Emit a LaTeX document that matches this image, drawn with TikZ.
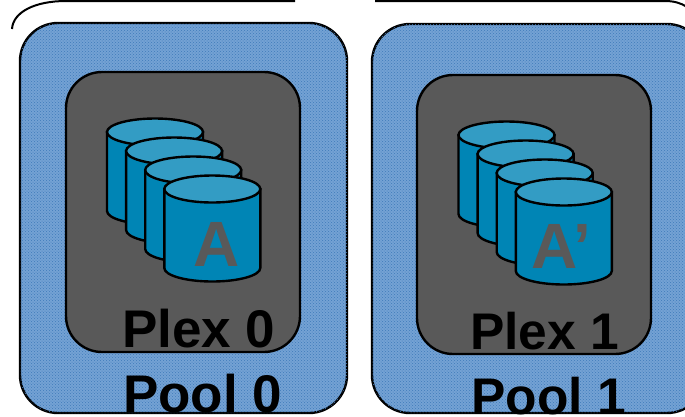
\documentclass[tikz,border=0pt]{standalone}
\usepackage{fontspec}
\setmainfont{Liberation Sans}
\usepackage{xcolor}
\usetikzlibrary{positioning,patterns}
\definecolor{poolblue}{HTML}{74A2D4}
\definecolor{pooldot}{HTML}{3F7ABA}
\definecolor{plexgray}{HTML}{595959}
\definecolor{disktop}{HTML}{339CC4}
\definecolor{diskside}{HTML}{0085B5}
\tikzset{
  poolbox/.style={draw=black,line width=2.4pt,fill=poolblue,rounded corners=38pt,
    postaction={pattern=crosshatch dots,pattern color=pooldot}},
  plexbox/.style={draw=black,line width=2.4pt,fill=plexgray,rounded corners=36pt},
  disk/.style={draw=black,line width=2.4pt},
  brace/.style={draw=black,line width=2pt},
  biglabel/.style={anchor=base west,inner sep=0pt,font=\bfseries\fontsize{#1}{#1}\selectfont},
  biglabel/.default=53,
  disklabel/.style={anchor=base west,inner sep=0pt,text=plexgray,font=\bfseries\fontsize{64}{64}\selectfont}
}
\begin{document}
\begin{tikzpicture}[x=1pt,y=-1pt]
\useasboundingbox (0,0) rectangle (685,416);

% Top brackets
\draw[brace] (12,29) .. controls (13,12) and (35,1) .. (66,1) -- (295,1);
\draw[brace] (375,1) -- (665,1) .. controls (674,1) and (681,3) .. (687,7);

% Pools
\draw[poolbox] (20,23) rectangle (347,413);
\draw[poolbox] (372,24) rectangle (705,413);

% Plexes
\draw[plexbox] (66,72) rectangle (300,352);
\draw[plexbox] (417,75) rectangle (651,354);

% Disk stacks
\foreach \ox/\oy in {155/132,506.5/135}{
  \foreach \k in {0,...,3}{
    \draw[disk,fill=diskside] (\ox-48+\k*19.1,\oy+\k*19) -- ++(0,79)
      arc[start angle=180,end angle=360,x radius=48,y radius=-13.5] -- ++(0,-79) -- cycle;
    \draw[disk,fill=disktop] (\ox+\k*19.1,\oy+\k*19) ellipse[x radius=48,y radius=13.5];
  }
}

% Labels
\node[disklabel] (diskA) at (193,266) {A};
\node[disklabel] (diskAp) at (531,268) {A’};
\node[biglabel] (plex0) at (122,347) {Plex 0};
\node[biglabel=51.5] (plex1) at (470,349) {Plex 1};
\node[biglabel] (pool0) at (123,412) {Pool 0};
\node[biglabel=51.5] (pool1) at (471,414.5) {Pool 1};

\end{tikzpicture}
\end{document}
